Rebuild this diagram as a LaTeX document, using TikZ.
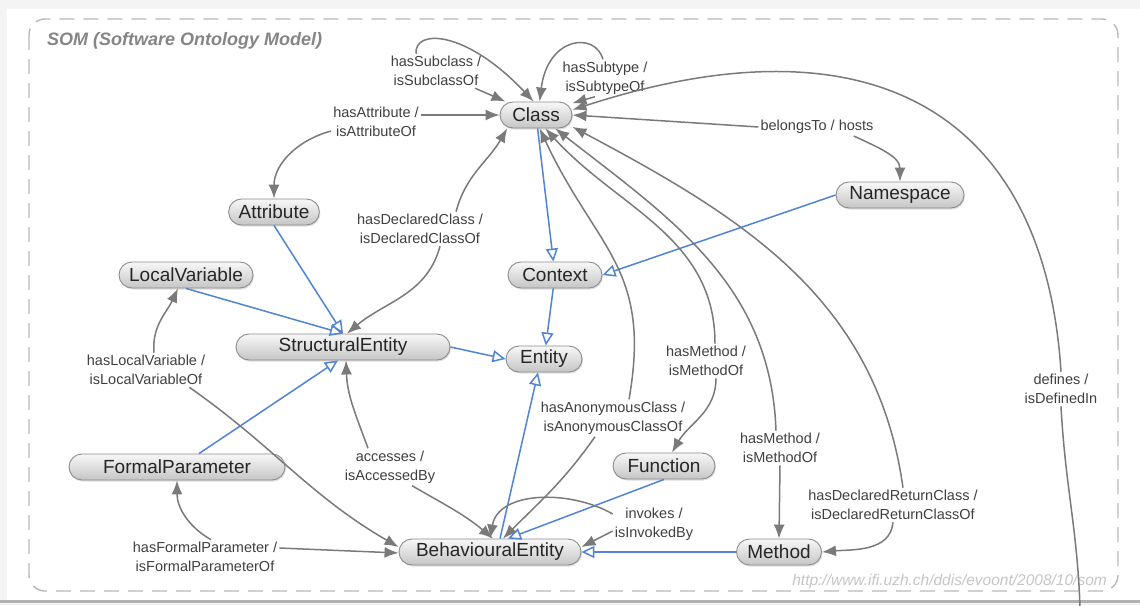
\documentclass[tikz,border=0pt]{standalone}
\usepackage{fontspec}
\setmainfont{Liberation Sans}
\usetikzlibrary{arrows.meta,shadows}
\definecolor{isablue}{RGB}{80,132,212}
\definecolor{relgray}{RGB}{122,122,122}
\definecolor{boxline}{RGB}{140,140,140}
\begin{document}
\begin{tikzpicture}[x=1pt,y=1pt,
  concept/.style={draw=boxline,line width=0.9pt,rounded corners=13pt,minimum height=26pt,
    inner xsep=10pt,inner ysep=0pt,top color=gray!6,bottom color=gray!45,text=black!85,
    font=\fontsize{19}{22}\selectfont,
    drop shadow={shadow xshift=1pt,shadow yshift=-1.5pt,opacity=0.25}},
  relname/.style={align=center,text=black!75,inner sep=2pt,font=\fontsize{14.5}{19.5}\selectfont},
  rel/.style={draw=relgray,line width=1.5pt,-{Latex[length=14pt,width=11pt]}},
  isa/.style={draw=isablue,line width=1.5pt,-{Triangle[open,length=13pt,width=12pt]}}]
\useasboundingbox (0,0) rectangle (1140,-605);
\fill[gray!9] (0,0) rectangle (1140,-605);
\fill[white] (7,-9) rectangle (1140,-600);
\fill[gray!60] (0,-600) rectangle (1140,-603);
\draw[gray!55,line width=1.4pt,dash pattern=on 15pt off 9pt,rounded corners=16pt]
  (29,-19) rectangle (1118,-591);
\node[anchor=west,inner sep=0pt,text=black!48,font=\fontsize{18}{20}\selectfont\bfseries\itshape]
  (title) at (47,-41) {SOM (Software Ontology Model)};
\node[anchor=east,inner sep=0pt,text=gray!45,font=\fontsize{15.5}{17}\selectfont\itshape]
  (url) at (1107,-581) {http://www.ifi.uzh.ch/ddis/evoont/2008/10/som};

\node[concept,minimum width=72pt] (cls) at (536,-115) {Class};
\node[concept,minimum width=128pt] (nsp) at (900,-195) {Namespace};
\node[concept,minimum width=88pt] (attr) at (274,-212) {Attribute};
\node[concept,minimum width=94pt] (ctx) at (555,-275) {Context};
\node[concept,minimum width=134pt] (lvar) at (186,-275) {LocalVariable};
\node[concept,minimum width=214pt] (sent) at (343,-347) {StructuralEntity};
\node[concept,minimum width=76pt] (ent) at (544,-359) {Entity};
\node[concept,minimum width=216pt] (fpar) at (177,-467) {FormalParameter};
\node[concept,minimum width=102pt] (func) at (664,-466) {Function};
\node[concept,minimum width=182pt] (bent) at (490,-552) {BehaviouralEntity};
\node[concept,minimum width=85pt] (meth) at (779,-552) {Method};

\node[relname] (lSub) at (436,-71) {hasSubclass /\\isSubclassOf};
\node[relname] (lSty) at (605,-78) {hasSubtype /\\isSubtypeOf};
\node[relname] (lAtt) at (376,-122) {hasAttribute /\\isAttributeOf};
\node[relname] (lBel) at (817,-127) {belongsTo / hosts};
\node[relname] (lDec) at (420,-229) {hasDeclaredClass /\\isDeclaredClassOf};
\node[relname] (lLoc) at (146,-370) {hasLocalVariable /\\isLocalVariableOf};
\node[relname] (lMf) at (706,-361) {hasMethod /\\isMethodOf};
\node[relname] (lDef) at (1061,-389) {defines /\\isDefinedIn};
\node[relname] (lAno) at (613,-418) {hasAnonymousClass /\\isAnonymousClassOf};
\node[relname] (lMm) at (780,-448) {hasMethod /\\isMethodOf};
\node[relname] (lAcc) at (390,-467) {accesses /\\isAccessedBy};
\node[relname] (lRet) at (893,-505) {hasDeclaredReturnClass /\\isDeclaredReturnClassOf};
\node[relname] (lInv) at (654,-524) {invokes /\\isInvokedBy};
\node[relname] (lFor) at (205,-557) {hasFormalParameter /\\isFormalParameterOf};

\draw[isa] (cls) -- (ctx);
\draw[isa] (nsp.west) -- (ctx.east);
\draw[isa] (ctx) -- (ent);
\draw[isa] (sent.east) -- (ent.west);
\draw[isa] (attr.south) -- (sent.north);
\draw[isa] (lvar.south) -- (sent.north);
\draw[isa] ([xshift=22pt]fpar.north) -- ([xshift=-5pt]sent.south);
\draw[isa] ([xshift=10pt]bent.north) -- ([xshift=-6pt]ent.south);
\draw[isa] (func.south) -- ([xshift=18pt]bent.north);
\draw[isa] (meth.west) -- (bent.east);

\draw[rel] ([xshift=-20pt]lSub.north) .. controls +(-2,25) and +(-68,72) .. (cls.100);
\draw[rel] (lSub) -- (cls);
\draw[rel] ([xshift=-2pt]lSty.north) .. controls +(-8,28) and +(8,65) .. (cls.75);
\draw[rel] ([xshift=-10pt]lSty.south) -- (cls.18);
\draw[rel] (lAtt.east |- cls.west) -- (cls.west);
\draw[rel] ([yshift=-9pt]lAtt.west) to[out=195,in=90] (attr.north);
\draw[rel] (lBel.west) -- (cls.east);
\draw[rel] ([xshift=-22pt]lBel.south east) to[out=-25,in=90] (nsp.north);
\draw[rel] ([xshift=20pt]lDec.south) to[out=-105,in=40] ([xshift=4pt]sent.north);
\draw[rel] ([xshift=36pt]lDec.north) to[out=75,in=-120] (cls.205);
\draw[rel] ([xshift=8pt]lLoc.north) to[out=95,in=-115] ([xshift=-8pt]lvar.south);
\draw[rel] ([xshift=-18pt]lLoc.south east) to[out=-35,in=150] ([yshift=5pt]bent.west);
\draw[rel] ([xshift=6pt]lFor.north) to[out=150,in=-90] (fpar.south);
\draw[rel] ([yshift=9pt]lFor.east) -- ([yshift=-1pt]bent.west);
\draw[rel] ([xshift=-22pt]lAcc.north) to[out=110,in=-88] ([xshift=3pt]sent.south);
\draw[rel] ([xshift=22pt]lAcc.south) to[out=-30,in=140] ([xshift=3pt]bent.north);
\draw[rel] ([xshift=16pt]lAno.north) to[out=80,in=-65,looseness=1.2] (cls.-75);
\draw[rel] ([xshift=-18pt]lAno.south) to[out=-125,in=45] ([xshift=13pt]bent.north);
\draw[rel] ([xshift=9pt]lMf.north) to[out=90,in=-48] (cls.-55);
\draw[rel] ([xshift=10pt]lMf.south) to[out=-90,in=60] ([xshift=8pt]func.north);
\draw[rel] ([xshift=-4pt]lMm.north) to[out=92,in=-38] (cls.-35);
\draw[rel] (lMm.south) -- (meth.north);
\draw[rel] ([xshift=10pt]lRet.north) to[out=98,in=-28] (cls.-18);
\draw[rel] (lRet.south) to[out=-95,in=5] (meth.east);
\draw[rel] ([yshift=10pt]lInv.west) to[out=150,in=80] (bent.north);
\draw[rel] ([yshift=-7pt]lInv.west) -- ([yshift=5pt]bent.east);
\draw[rel] (lDef.north) .. controls (1045,-120) and (880,-10) .. (cls.8);
\coordinate (defEnd) at (1080,-607);
\draw[draw=relgray,line width=1.5pt] (lDef.south) to[out=-87,in=92] (defEnd);
\end{tikzpicture}
\end{document}
